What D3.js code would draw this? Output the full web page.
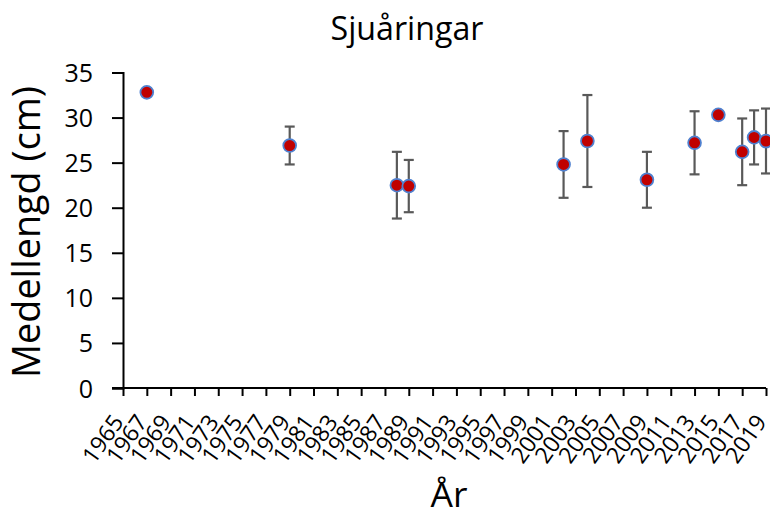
<!DOCTYPE html>
<html><head><meta charset="utf-8">
<script src="https://cdn.jsdelivr.net/npm/d3@7"></script>
<style>body{margin:0;background:#fff;} svg{display:block;}</style>
</head><body>
<svg id="c" width="770" height="518"></svg>
<script>
const years = [1967, 1979, 1988, 1989, 2002, 2004, 2009, 2013, 2015, 2017, 2018, 2019];
const means = [32.8, 26.9, 22.5, 22.4, 24.8, 27.4, 23.1, 27.2, 30.3, 26.2, 27.8, 27.4];
const lower = [null, 24.8, 18.8, 19.5, 21.1, 22.3, 20.0, 23.7, null, 22.5, 24.8, 23.8];
const upper = [null, 29.0, 26.2, 25.3, 28.5, 32.5, 26.2, 30.7, null, 29.9, 30.8, 31.0];
const xTicks = d3.range(1965, 2020, 2);
const yTicks = [0, 5, 10, 15, 20, 25, 30, 35];
const title = "Sjuåringar", xTitle = "År", yTitle = "Medellengd (cm)";

const FONT = "'Open Sans', Lato, sans-serif";
const svg = d3.select("#c");
const x = d3.scaleLinear().domain([1965, 2019]).range([123, 766]);
const y = d3.scaleLinear().domain([0, 35]).range([388, 72.5]);

function fit(sel, target) {
  const fs = +sel.attr("font-size");
  const w = sel.node().getComputedTextLength();
  if (w > 0) sel.attr("font-size", (fs * target / w).toFixed(2));
  return sel;
}

// y axis
const ya = svg.append("g").attr("transform", "translate(123,0)")
  .call(d3.axisLeft(y).tickValues(yTicks).tickSize(11).tickPadding(19).tickFormat(d3.format("d")));
ya.select(".domain").attr("stroke", "#000").attr("stroke-width", 2);
ya.selectAll(".tick line").attr("stroke", "#000").attr("stroke-width", 2);
ya.selectAll(".tick text").attr("font-family", FONT).attr("font-size", 25).attr("fill", "#000").attr("dy", "0.36em");

// x axis
const xa = svg.append("g").attr("transform", "translate(0,388)")
  .call(d3.axisBottom(x).tickValues(xTicks).tickSize(8).tickSizeOuter(0).tickFormat(d3.format("d")));
xa.select(".domain").attr("stroke", "#000").attr("stroke-width", 2).attr("d", "M112,0H766");
xa.selectAll(".tick line").attr("stroke", "#000").attr("stroke-width", 2);
xa.selectAll(".tick text").attr("font-family", FONT).attr("font-size", 23).attr("fill", "#000")
  .attr("text-anchor", "end").attr("dy", null).attr("y", 0)
  .attr("transform", "translate(1,34) rotate(-55)");

// error bars
const eb = years.map((yr, i) => ({yr, lo: lower[i], hi: upper[i]})).filter(d => d.lo != null);
const g = svg.append("g").attr("stroke", "#595959").attr("stroke-width", 2.2).attr("fill", "none");
eb.forEach(d => {
  g.append("line").attr("x1", x(d.yr)).attr("x2", x(d.yr)).attr("y1", y(d.lo)).attr("y2", y(d.hi));
  g.append("line").attr("x1", x(d.yr) - 5).attr("x2", x(d.yr) + 5).attr("y1", y(d.lo)).attr("y2", y(d.lo));
  g.append("line").attr("x1", x(d.yr) - 5).attr("x2", x(d.yr) + 5).attr("y1", y(d.hi)).attr("y2", y(d.hi));
});

// markers
svg.append("g").selectAll("circle").data(years).join("circle")
  .attr("cx", d => x(d)).attr("cy", (d, i) => y(means[i])).attr("r", 6.4)
  .attr("fill", "#C00000").attr("stroke", "#4F81D0").attr("stroke-width", 1.8);

// titles
fit(svg.append("text").attr("x", 407).attr("y", 40).attr("text-anchor", "middle")
  .attr("font-family", FONT).attr("font-size", 30).attr("fill", "#000").text(title), 153);
fit(svg.append("text").attr("x", 449).attr("y", 507).attr("text-anchor", "middle")
  .attr("font-family", FONT).attr("font-size", 34).attr("fill", "#000").text(xTitle), 37);
fit(svg.append("text").attr("transform", "translate(40,232) rotate(-90)").attr("text-anchor", "middle")
  .attr("font-family", FONT).attr("font-size", 36).attr("fill", "#000").text(yTitle), 292);
</script>
</body></html>
